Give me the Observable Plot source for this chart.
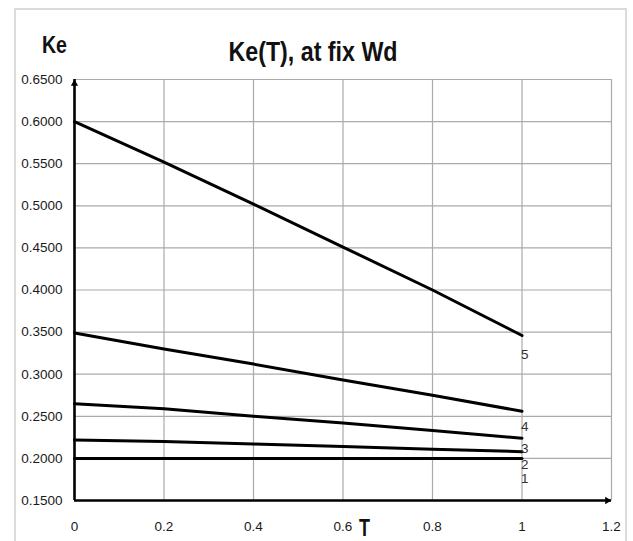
<!DOCTYPE html>
<html>
<head>
<meta charset="utf-8">
<script src="https://cdn.jsdelivr.net/npm/d3@7"></script>
<script src="https://cdn.jsdelivr.net/npm/@observablehq/plot@0.6"></script>
<style>
  html, body { margin: 0; padding: 0; background: #fff; }
  #chart svg { display: block; }
</style>
</head>
<body>
<div id="chart"></div>
<script>
// ---- data ----
const T = [0, 0.2, 0.4, 0.6, 0.8, 1];
const ke1 = [0.200, 0.200, 0.200, 0.200, 0.200, 0.200];
const ke2 = [0.222, 0.220, 0.217, 0.214, 0.211, 0.208];
const ke3 = [0.265, 0.259, 0.250, 0.242, 0.233, 0.224];
const ke4 = [0.349, 0.330, 0.312, 0.293, 0.275, 0.256];
const ke5 = [0.600, 0.552, 0.502, 0.451, 0.400, 0.346];
const seriesNames = ["1", "2", "3", "4", "5"];
const labelKe = [0.176, 0.193, 0.211, 0.238, 0.323]; // label positions (Ke units) at T = 1
const xTicks = [0, 0.2, 0.4, 0.6, 0.8, 1, 1.2];
const xTickLabels = ["0", "0.2", "0.4", "0.6", "0.8", "1", "1.2"];
const yTicks = [0.15, 0.2, 0.25, 0.3, 0.35, 0.4, 0.45, 0.5, 0.55, 0.6, 0.65];
const xDomain = [0, 1.2];
const yDomain = [0.15, 0.65];
const titleText = "Ke(T), at fix Wd";
const yLabel = "Ke";
const xLabel = "T";

// ---- build table ----
const allSeries = [ke1, ke2, ke3, ke4, ke5];
const rows = [];
allSeries.forEach((vals, s) => vals.forEach((v, i) => rows.push({series: seriesNames[s], T: T[i], Ke: v})));
const labels = seriesNames.map((n, i) => ({name: n, T: T[T.length - 1], Ke: labelKe[i]}));

const grid = {stroke: "#aaa", strokeOpacity: 1, strokeWidth: 1.2};

const svg = Plot.plot({
  width: 633,
  height: 541,
  marginLeft: 74,
  marginRight: 22,
  marginTop: 79,
  marginBottom: 41,
  style: {fontFamily: "'Liberation Sans', Arial, sans-serif", background: "#fff", color: "#1a1a1a"},
  x: {domain: xDomain},
  y: {domain: yDomain},
  marks: [
    Plot.gridY(yTicks.filter(v => v > yDomain[0]), grid),
    Plot.gridX(xTicks.filter(v => v > xDomain[0]), grid),
    Plot.axisY(yTicks, {tickSize: 0, tickPadding: 12, tickFormat: d3.format(".4f"), fontSize: 13.5, fill: "#1a1a1a", label: null}),
    Plot.axisX(xTicks, {tickSize: 0, tickPadding: 21, tickFormat: d => xTickLabels[xTicks.indexOf(d)], fontSize: 13.5, fill: "#1a1a1a", label: null}),
    Plot.line(rows, {x: "T", y: "Ke", z: "series", stroke: "#000", strokeWidth: 3}),
    Plot.ruleX([xDomain[0]], {y1: yDomain[0], y2: yDomain[1], stroke: "#000", strokeWidth: 2.6}),
    Plot.ruleY([yDomain[0]], {x1: xDomain[0], x2: xDomain[1], stroke: "#000", strokeWidth: 2.6}),
    Plot.dot([{x: xDomain[0], y: yDomain[1]}], {x: "x", y: "y", symbol: "triangle", r: 2.7, fill: "#000", stroke: null, dy: 4.2}),
    Plot.dot([{x: xDomain[1], y: yDomain[0]}], {x: "x", y: "y", symbol: "triangle", r: 2.7, fill: "#000", stroke: null, rotate: 90, dx: -4.2}),
    Plot.text(labels, {x: "T", y: "Ke", text: "name", textAnchor: "start", dx: -1, fontSize: 13.5, fill: "#333"}),
    Plot.text([titleText], {frameAnchor: "top", lineAnchor: "bottom", dx: -30, dy: -19, fontSize: 27, fontWeight: "bold", fill: "#111"}),
    Plot.text([yLabel], {frameAnchor: "top-left", lineAnchor: "bottom", textAnchor: "middle", dx: -20, dy: -27, fontSize: 24, fontWeight: "bold", fill: "#111"}),
    Plot.text([xLabel], {frameAnchor: "bottom", lineAnchor: "bottom", textAnchor: "middle", dx: 21.5, dy: 35, fontSize: 23, fontWeight: "bold", fill: "#111"})
  ]
});

// condense bold texts like the reference, and add the outer frame
const sel = d3.select(svg);
sel.selectAll("text").each(function() {
  const t = this.textContent;
  if (t === titleText) d3.select(this).attr("textLength", 169).attr("lengthAdjust", "spacingAndGlyphs");
  if (t === yLabel) d3.select(this).attr("textLength", 25).attr("lengthAdjust", "spacingAndGlyphs");
  if (t === xLabel) d3.select(this).attr("textLength", 11).attr("lengthAdjust", "spacingAndGlyphs");
});
sel.insert("rect", ":first-child")
  .attr("x", 15).attr("y", 9).attr("width", 611).attr("height", 545)
  .attr("fill", "none").attr("stroke", "#d0d0d0").attr("stroke-width", 1.5);

document.getElementById("chart").appendChild(svg);
</script>
</body>
</html>
